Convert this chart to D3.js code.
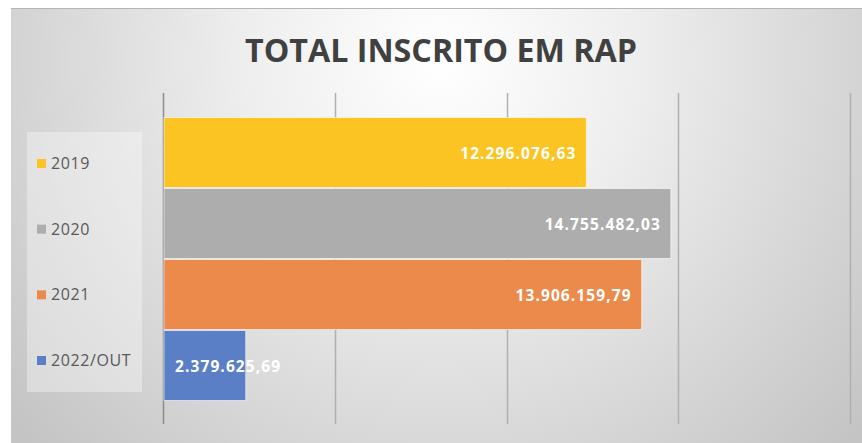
<!DOCTYPE html>
<html>
<head>
<meta charset="utf-8">
<script src="https://cdn.jsdelivr.net/npm/d3@7"></script>
<style>
html,body{margin:0;padding:0;background:#fff;}
svg{display:block;}
</style>
</head>
<body>
<script>
const title = "TOTAL INSCRITO EM RAP";
const categories = ["2019", "2020", "2021", "2022/OUT"];
const values = [12296076.63, 14755482.03, 13906159.79, 2379625.69];
const labels = ["12.296.076,63", "14.755.482,03", "13.906.159,79", "2.379.625,69"];
const colors = ["#FBC423", "#ADADAD", "#EB8A4B", "#5A7FC7"];
const xTicks = [0, 5000000, 10000000, 15000000, 20000000];

const W = 862, H = 443;
const svg = d3.select("body").append("svg").attr("width", W).attr("height", H);
const defs = svg.append("defs");
const rg = defs.append("radialGradient").attr("id", "bg")
  .attr("gradientUnits", "userSpaceOnUse")
  .attr("cx", 440).attr("cy", 60).attr("r", 560);
rg.append("stop").attr("offset", "0").attr("stop-color", "#ffffff");
rg.append("stop").attr("offset", "0.35").attr("stop-color", "#eeeeee");
rg.append("stop").attr("offset", "1").attr("stop-color", "#c4c4c4");

// chart area
svg.append("rect").attr("x", 11).attr("y", 8).attr("width", W - 11).attr("height", H - 8)
  .attr("fill", "url(#bg)");
svg.append("line").attr("x1", 11).attr("x2", W).attr("y1", 8.5).attr("y2", 8.5)
  .attr("stroke", "#b5b5b5").attr("stroke-width", 1);

// title
svg.append("text").attr("x", 441).attr("y", 62).attr("text-anchor", "middle")
  .attr("font-family", "'Liberation Sans Narrow','Open Sans',sans-serif")
  .attr("font-weight", "bold").attr("font-size", 33).attr("fill", "#404040")
  .attr("textLength", 392).attr("lengthAdjust", "spacingAndGlyphs")
  .text(title);

const plot = {left: 163, right: 850, top: 93, bottom: 424};
const x = d3.scaleLinear().domain([0, 20000000]).range([plot.left, plot.right]);
const y = d3.scaleBand().domain(categories).range([117, 401]).padding(0);

// gridlines
const gridG = svg.append("g");
gridG.selectAll("line").data(xTicks).join("line")
  .attr("x1", d => Math.round(x(d)) + 0.5).attr("x2", d => Math.round(x(d)) + 0.5)
  .attr("y1", plot.top).attr("y2", plot.bottom)
  .attr("stroke", (d, i) => i === 0 ? "#8c8c8c" : "#b0b0b0")
  .attr("stroke-width", 1.5);

// bars
svg.append("g").selectAll("rect").data(categories).join("rect")
  .attr("x", x(0) + 1)
  .attr("y", d => y(d) + 0.5)
  .attr("width", (d, i) => x(values[i]) - x(0))
  .attr("height", y.bandwidth() - 1)
  .attr("fill", (d, i) => colors[i])
  .attr("stroke", "rgba(255,255,255,0.6)").attr("stroke-width", 1);

// labels
svg.append("g").selectAll("text").data(categories).join("text")
  .attr("x", (d, i) => (x(values[i]) - x(0) > 150) ? x(values[i]) - 9 : x(0) + 12)
  .attr("y", d => y(d) + y.bandwidth() / 2 + 6)
  .attr("text-anchor", (d, i) => (x(values[i]) - x(0) > 150) ? "end" : "start")
  .attr("font-family", "'Open Sans',sans-serif").attr("font-weight", "bold")
  .attr("font-size", 15.5).attr("letter-spacing", 1.1).attr("fill", "#ffffff")
  .text((d, i) => labels[i]);

// legend
const lg = svg.append("g");
lg.append("rect").attr("x", 27).attr("y", 132).attr("width", 115).attr("height", 260)
  .attr("fill", "rgba(255,255,255,0.35)");
const ly = d3.scalePoint().domain(categories).range([163, 360]);
lg.selectAll("rect.sw").data(categories).join("rect").attr("class", "sw")
  .attr("x", 37).attr("y", d => ly(d) - 4).attr("width", 9).attr("height", 9)
  .attr("fill", (d, i) => colors[i]);
lg.selectAll("text").data(categories).join("text")
  .attr("x", 51).attr("y", d => ly(d) + 6)
  .attr("font-family", "'Open Sans',sans-serif").attr("font-size", 16)
  .attr("letter-spacing", 0.6)
  .attr("fill", "#595959")
  .text(d => d);
</script>
</body>
</html>
